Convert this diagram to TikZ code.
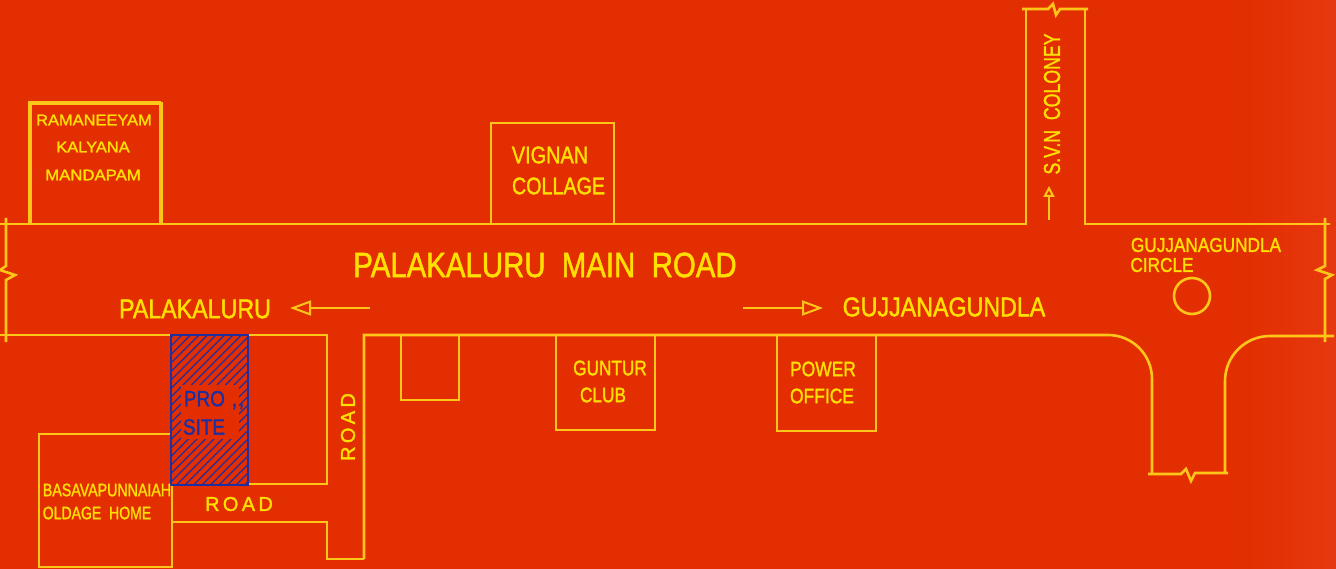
\documentclass[tikz,border=0pt]{standalone}
\usepackage{xcolor}
\usepackage{fontspec}
\setmainfont{Liberation Sans}[FakeBold=1.6]
\usetikzlibrary{arrows.meta,positioning,calc}
\definecolor{mapred}{HTML}{E22E00}
\definecolor{mapredlight}{HTML}{E6380F}
\definecolor{mapline}{HTML}{FFC61A}
\definecolor{maptext}{HTML}{FFE000}
\definecolor{siteblue}{HTML}{1F2FA0}
\tikzset{
  roadline/.style={draw=mapline,line width=2.6pt,line join=miter},
  maplabel/.style={text=maptext,inner sep=0pt,align=left},
  openarrow/.style={draw=mapline,line width=2pt,-{Triangle[open,length=21pt,width=15pt]}},
}
\begin{document}
\begin{tikzpicture}[x=1pt,y=-1pt]
    \useasboundingbox (0,0) rectangle (1336,569);
    % Background
    \fill[mapred] (0,0) rectangle (1336,569);
    \shade[left color=mapred,right color=mapredlight] (1240,0) rectangle (1336,569);

    % Main road
    \draw[roadline] (0,224) -- (1026,224) -- (1026,8);
    \draw[roadline] (1022,9) -- (1048,9) -- (1053,4) -- (1056,15) -- (1060,9) -- (1088,9);
    \draw[roadline] (1085,8) -- (1085,224) -- (1330,224);
    \draw[roadline] (0,335) -- (171,335);
    \draw[roadline] (248,335) -- (327,335) -- (327,484) -- (248,484);
    \draw[roadline] (364,559) -- (364,335) -- (1108,335)
        arc (-90:0:44) -- (1152,474);
    \draw[roadline] (1148,474) -- (1181,474) -- (1186,469) -- (1191,481) -- (1195,473) -- (1228,473);
    \draw[roadline] (1225,473) -- (1225,381) arc (180:270:45) -- (1334,336);

    % Road ends
    \draw[roadline] (6,218) -- (6,266) -- (0,270) -- (15,275) -- (6,280) -- (6,342);
    \draw[roadline] (1325,218) -- (1325,266) -- (1317,270) -- (1332,275) -- (1325,279) -- (1325,342);

    % Buildings
    \draw[roadline,line width=3.4pt] (30,224) -- (30,103) -- (161,103);
    \draw[roadline,line width=4.4pt] (161,102) -- (161,224);
    \draw[roadline] (491,224) -- (491,123) -- (614,123) -- (614,224);
    \draw[roadline] (401,335) -- (401,400) -- (459,400) -- (459,335);
    \draw[roadline] (556,335) -- (556,430) -- (655,430) -- (655,335);
    \draw[roadline] (777,335) -- (777,431) -- (876,431) -- (876,335);
    \draw[roadline] (171,434) -- (39,434) -- (39,567) -- (172,567) -- (172,485);
    \draw[roadline] (172,522) -- (327,522) -- (327,559) -- (364,559);
    \draw[roadline] (1192,296) circle (18);

    % Project site
    \begin{scope}
        \clip (171,335) rectangle (248,485);
        \foreach \s in {0,8.5,...,240}
            \draw[siteblue,line width=1.3pt] (165,335+\s) -- (265,335+\s-100);
        \fill[mapred] (181,385) rectangle (239,439);
    \end{scope}
    \draw[siteblue,line width=1.6pt] (171,335) rectangle (248,485);

    % Labels
    \node[maplabel,font=\fontsize{15.5}{15.5}\selectfont,xscale=1.06] (ramaneeyam) at (94,120) {RAMANEEYAM};
    \node[maplabel,font=\fontsize{15.5}{15.5}\selectfont,xscale=1.06] (kalyana) at (93,147) {KALYANA};
    \node[maplabel,font=\fontsize{15.5}{15.5}\selectfont,xscale=1.08] (mandapam) at (93,175) {MANDAPAM};
    \node[maplabel,font=\fontsize{24}{24}\selectfont,xscale=.83] (vignan) at (550,155) {VIGNAN};
    \node[maplabel,font=\fontsize{24}{24}\selectfont,xscale=.82] (collage) at (558.5,186) {COLLAGE};
    \node[maplabel,font=\fontsize{35}{35}\selectfont,xscale=.84] (mainroad) at (545,265) {PALAKALURU\ \ MAIN\ \ ROAD};
    \node[maplabel,font=\fontsize{27}{27}\selectfont,xscale=.86] (palakaluru) at (195,309) {PALAKALURU};
    \node[maplabel,font=\fontsize{27}{27}\selectfont,xscale=.86] (gujjana) at (944,307) {GUJJANAGUNDLA};
    \node[maplabel,font=\fontsize{20}{20}\selectfont,xscale=.86] (gcircletop) at (1206,245) {GUJJANAGUNDLA};
    \node[maplabel,font=\fontsize{20}{20}\selectfont,xscale=.86] (gcircle) at (1162,265) {CIRCLE};
    \node[maplabel,font=\fontsize{23}{23}\selectfont,rotate=90,xscale=.77] (svn) at (1052,104) {S.V.N\ \ COLONEY};
    \node[maplabel,font=\fontsize{21}{21}\selectfont,xscale=.82] (guntur) at (610,368) {GUNTUR};
    \node[maplabel,font=\fontsize{21}{21}\selectfont,xscale=.82] (club) at (603,395) {CLUB};
    \node[maplabel,font=\fontsize{21}{21}\selectfont,xscale=.83] (power) at (823,369) {POWER};
    \node[maplabel,font=\fontsize{21}{21}\selectfont,xscale=.83] (office) at (822,396) {OFFICE};
    \node[maplabel,font=\fontsize{18}{18}\selectfont,xscale=.79] (basava) at (107,490) {BASAVAPUNNAIAH};
    \node[maplabel,font=\fontsize{18}{18}\selectfont,xscale=.78] (oldage) at (97,513) {OLDAGE\ \ HOME};
    \node[maplabel,font=\fontsize{20}{20}\selectfont,rotate=90] (roadv) at (348,427) {R\,O\,A\,D};
    \node[maplabel,font=\fontsize{20}{20}\selectfont] (roadh) at (239,504) {R\,O\,A\,D};
    \node[text=siteblue,inner sep=0pt,font=\fontsize{22}{22}\selectfont,xscale=.86] (pro) at (214,400) {PRO\hspace{8pt},\hspace{2pt},};
    \node[text=siteblue,inner sep=0pt,font=\fontsize{22}{22}\selectfont,xscale=.86] (site) at (204,427) {SITE};

    % Direction arrows
    \coordinate (leftstart) at (370,308);
    \coordinate (lefttip) at (290,308);
    \coordinate (rightstart) at (743,308);
    \coordinate (righttip) at (823,308);
    \coordinate (upstart) at (1049,220);
    \coordinate (uptip) at (1049,186);
    \draw[openarrow] (leftstart) -- (lefttip);
    \draw[openarrow] (rightstart) -- (righttip);
    \draw[openarrow,-{Triangle[open,length=11pt,width=11pt]}] (upstart) -- (uptip);
\end{tikzpicture}
\end{document}
